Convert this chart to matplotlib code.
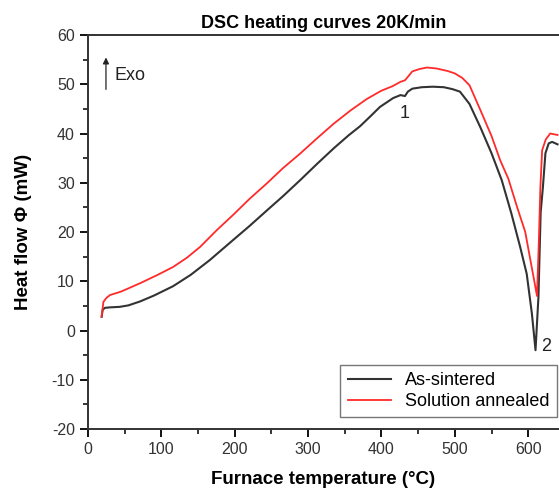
import matplotlib
matplotlib.use('Agg')
import matplotlib.pyplot as plt
from matplotlib.ticker import MultipleLocator

plt.rcParams['font.family'] = ['Liberation Sans', 'DejaVu Sans']
plt.rcParams['axes.unicode_minus'] = False

# As-sintered curve
t_sint = [18.6, 20, 23, 30, 43, 55, 71, 90, 116, 140, 166, 198, 220, 244, 266, 289, 312,
          335, 355, 371, 385, 398, 416, 426, 432, 436, 442, 455, 470, 485, 497, 507, 520,
          535, 550, 564, 577, 589, 598, 605, 610, 614, 617, 620, 623.5, 628, 632.6, 640]
hf_sint = [2.8, 4.2, 4.6, 4.7, 4.8, 5.1, 5.9, 7.1, 9.0, 11.3, 14.3, 18.4, 21.2, 24.4, 27.3, 30.5, 33.8,
           37, 39.6, 41.5, 43.5, 45.4, 47.2, 47.8, 47.6, 48.5, 49.1, 49.4, 49.5, 49.4, 49, 48.5, 46,
           41.2, 36, 30.5, 23.8, 17, 11.5, 3.5, -4, 6.9, 24, 29, 36, 38, 38.3, 37.8]

# Solution annealed curve
t_ann = [18.6, 21, 25, 30, 45, 71, 95, 116, 135, 153, 175, 198, 220, 244, 266, 289, 312,
         335, 358, 380, 400, 415, 426, 432, 436, 442, 452, 462, 475, 490, 500, 510, 520,
         535, 550, 562, 573, 585, 596, 604, 608, 612, 614.5, 616.6, 619, 624, 630, 640]
hf_ann = [2.8, 5.8, 6.6, 7.2, 7.9, 9.6, 11.3, 12.9, 14.8, 17, 20.3, 23.5, 26.7, 29.9, 33, 35.9, 39,
          42, 44.7, 47.0, 48.7, 49.6, 50.5, 50.8, 51.5, 52.6, 53.1, 53.4, 53.2, 52.7, 52.2, 51.3, 49.8,
          44.7, 39.5, 34.5, 30.8, 25, 20, 13.5, 10.3, 7, 18, 29, 36.6, 38.8, 40, 39.7]

fig = plt.figure(figsize=(5.59, 4.95), dpi=100)
ax = fig.add_axes([0.1574, 0.1333, 0.8426, 0.796])

ax.plot(t_sint, hf_sint, color='#333333', lw=1.5, label='As-sintered')
ax.plot(t_ann, hf_ann, color='#ff2a2a', lw=1.3, label='Solution annealed')

ax.set_xlim(0, 642)
ax.set_ylim(-20, 60)
ax.xaxis.set_major_locator(MultipleLocator(100))
ax.xaxis.set_minor_locator(MultipleLocator(50))
ax.yaxis.set_major_locator(MultipleLocator(10))
ax.yaxis.set_minor_locator(MultipleLocator(5))
ax.tick_params(which='major', direction='out', length=6, width=1.3, labelsize=11.5, labelcolor='#333333')
ax.tick_params(which='minor', direction='out', length=3.5, width=1.1)
ax.spines['right'].set_visible(False)
for s in ['left', 'top', 'bottom']:
    ax.spines[s].set_linewidth(1.4)
    ax.spines[s].set_color('#333333')

ax.set_title('DSC heating curves 20K/min', fontsize=13, fontweight='bold', pad=5)
ax.set_xlabel('Furnace temperature (°C)', fontsize=13.5, fontweight='bold', labelpad=10)
ax.set_ylabel('Heat flow Φ (mW)', fontsize=13.5, fontweight='bold', labelpad=14)

ax.annotate('', xy=(24.5, 56), xytext=(24.5, 48.4),
            arrowprops=dict(arrowstyle='-|>', color='#222222', lw=0.9, mutation_scale=9))
ax.text(36, 51.8, 'Exo', fontsize=13, va='center', color='#222222')
ax.text(432, 44.0, '1', fontsize=13, ha='center', va='center', color='#222222')
ax.text(625, -3.2, '2', fontsize=13, ha='center', va='center', color='#222222')

ax.legend(loc='lower right', bbox_to_anchor=(0.996, 0.03), fontsize=13, frameon=True, fancybox=False,
          edgecolor='#555555', handlelength=2.4, borderaxespad=0, labelspacing=0.2, borderpad=0.4)

plt.savefig('out.png', dpi=100)
